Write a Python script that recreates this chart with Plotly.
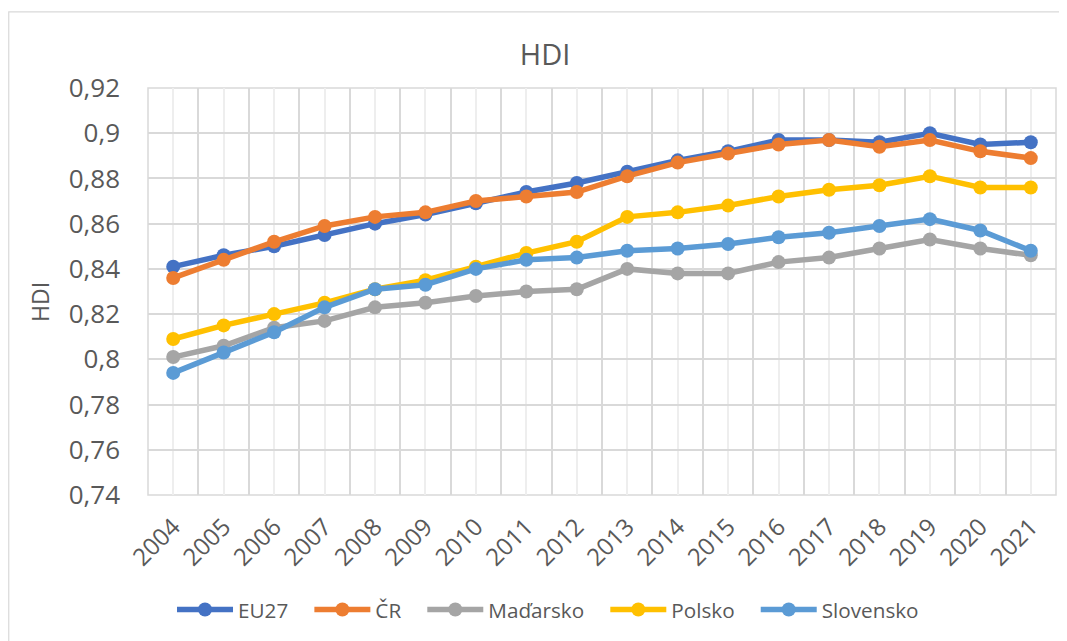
import plotly.graph_objects as go

years = list(range(2004, 2022))
eu27 = [0.841, 0.846, 0.850, 0.855, 0.860, 0.864, 0.869, 0.874, 0.878, 0.883, 0.888, 0.892, 0.897, 0.897, 0.896, 0.900, 0.895, 0.896]
cr = [0.836, 0.844, 0.852, 0.859, 0.863, 0.865, 0.870, 0.872, 0.874, 0.881, 0.887, 0.891, 0.895, 0.897, 0.894, 0.897, 0.892, 0.889]
madarsko = [0.801, 0.806, 0.814, 0.817, 0.823, 0.825, 0.828, 0.830, 0.831, 0.840, 0.838, 0.838, 0.843, 0.845, 0.849, 0.853, 0.849, 0.846]
polsko = [0.809, 0.815, 0.820, 0.825, 0.831, 0.835, 0.841, 0.847, 0.852, 0.863, 0.865, 0.868, 0.872, 0.875, 0.877, 0.881, 0.876, 0.876]
slovensko = [0.794, 0.803, 0.812, 0.823, 0.831, 0.833, 0.840, 0.844, 0.845, 0.848, 0.849, 0.851, 0.854, 0.856, 0.859, 0.862, 0.857, 0.848]

series = [
    ("EU27", eu27, "#4472C4"),
    ("ČR", cr, "#ED7D31"),
    ("Maďarsko", madarsko, "#A5A5A5"),
    ("Polsko", polsko, "#FFC000"),
    ("Slovensko", slovensko, "#5B9BD5"),
]
y_ticks = [0.74, 0.76, 0.78, 0.80, 0.82, 0.84, 0.86, 0.88, 0.90, 0.92]
y_ticktext = ["0,74", "0,76", "0,78", "0,8", "0,82", "0,84", "0,86", "0,88", "0,9", "0,92"]

# page body has an 8px margin: figure is placed at (8, 8)
OFF = 8
W, H = 1067 - OFF, 641 - OFF
# plot area in reference (page) pixels
L, R, T, B = 148, 1055.7, 87.7, 495.3
PW, PH = R - L, B - T

def px(x):
    return (x - L) / PW

def py(y):
    return (B - y) / PH

FONT = "Open Sans"
TXT = "#595959"
PAD = "\u00a0" * 3  # spacing between legend entries

fig = go.Figure()
for name, vals, color in series:
    fig.add_trace(go.Scatter(
        x=years, y=vals, name=name + PAD, mode="lines+markers",
        line=dict(color=color, width=5.5),
        marker=dict(color=color, size=14),
        hovertemplate=name + ": %{y}<extra></extra>",
    ))

fig.update_layout(
    width=W, height=H,
    margin=dict(l=L - OFF, r=1067 - R, t=T - OFF, b=641 - B, autoexpand=False),
    paper_bgcolor="white", plot_bgcolor="white",
    font=dict(family=FONT, color=TXT),
    title=dict(text="HDI", xref="paper", x=px(545), xanchor="center",
               yref="container", y=1 - (55 - OFF) / H, yanchor="middle",
               font=dict(size=29, color=TXT, family=FONT)),
    showlegend=True,
    legend=dict(orientation="h", x=px(172), xanchor="left", y=py(610), yanchor="middle",
                itemwidth=56,
                font=dict(size=20.7, color=TXT, family=FONT), bgcolor="rgba(0,0,0,0)"),
    xaxis=dict(
        range=[2003.5, 2021.5], tickmode="array", tickvals=years,
        ticktext=[str(y) for y in years], tickangle=-45,
        tickfont=dict(size=24, color=TXT, family=FONT),
        showgrid=True, gridcolor="#eeeeee", gridwidth=1.5,
        minor=dict(tickmode="linear", tick0=2003.5, dtick=1, showgrid=True,
                   gridcolor="#d9d9d9", gridwidth=1.5),
        showline=False, zeroline=False, ticks="", ticklabelstandoff=12,
        fixedrange=True,
    ),
    yaxis=dict(
        range=[0.74, 0.92], tickmode="array", tickvals=y_ticks, ticktext=y_ticktext,
        tickfont=dict(size=26, color=TXT, family=FONT),
        showgrid=True, gridcolor="#d9d9d9", gridwidth=1.5,
        showline=False, zeroline=False, ticks="", ticklabelstandoff=27,
        fixedrange=True,
    ),
    shapes=[
        dict(type="rect", xref="paper", yref="paper", x0=0, x1=1, y0=0, y1=1,
             line=dict(color="#d9d9d9", width=1.5), fillcolor="rgba(0,0,0,0)", layer="below"),
        dict(type="rect", xref="paper", yref="paper", x0=px(8.8), x1=px(1080), y0=py(660), y1=py(11.5),
             line=dict(color="#d9d9d9", width=1.2), fillcolor="rgba(0,0,0,0)", layer="below"),
    ],
    annotations=[
        dict(text="HDI", xref="paper", yref="paper", x=px(40), y=py(302), textangle=-90,
             showarrow=False, xanchor="center", yanchor="middle",
             font=dict(size=23, color=TXT, family=FONT)),
    ],
)

fig.write_html("out.html")
